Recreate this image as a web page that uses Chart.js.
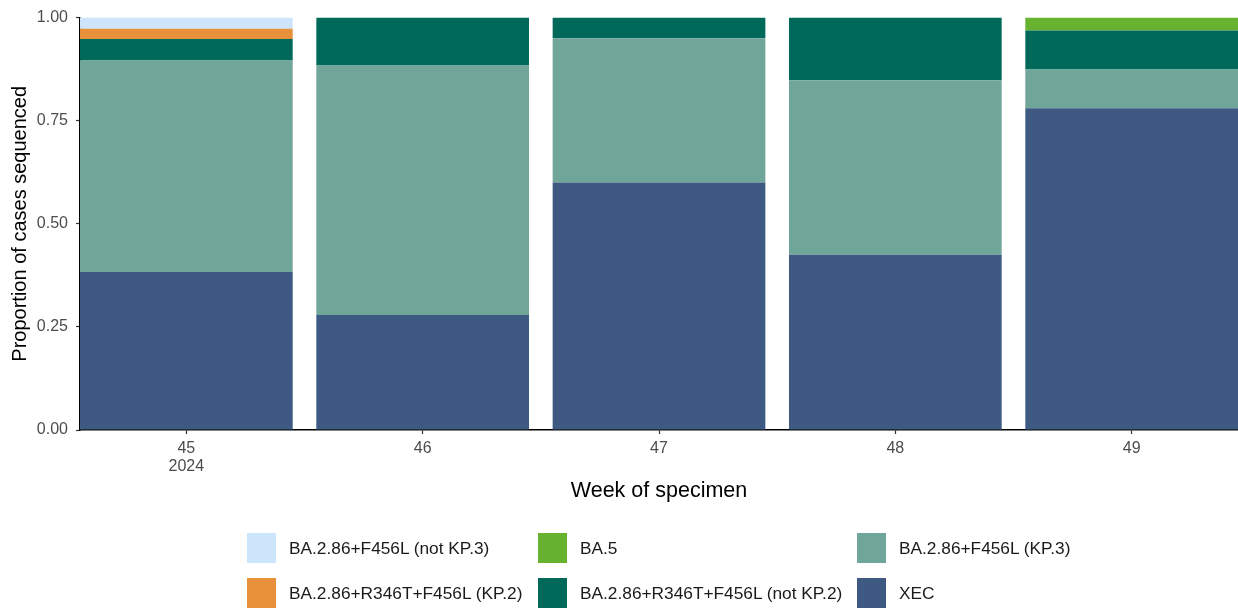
<!DOCTYPE html>
<html>
<head>
<meta charset="utf-8">
<script src="https://cdn.jsdelivr.net/npm/chart.js@4.4.1/dist/chart.umd.min.js"></script>
<style>
  html, body { margin: 0; padding: 0; background: #fff; }
  #wrap { position: relative; width: 1238px; height: 608px; font-family: "Liberation Sans", Arial, sans-serif; }
  #chart { position: absolute; left: 0; top: 0; }
  .key { position: absolute; width: 29px; height: 30px; }
  .lbl { position: absolute; font-size: 17.3px; line-height: 30px; color: #1a1a1a; white-space: nowrap; }
</style>
</head>
<body>
<div id="wrap">
  <canvas id="chart" width="1238" height="608"></canvas>
</div>
<script>
// week of specimen (x), first tick also carries the year
const weeks = [45, 46, 47, 48, 49];
const yearLabel = '2024';
const yTicks = [0, 0.25, 0.5, 0.75, 1];

// proportion of cases per lineage
const xec       = [0.383, 0.279, 0.600, 0.425, 0.780];
const kp3       = [0.513, 0.605, 0.350, 0.423, 0.094];
const notKp2    = [0.052, 0.116, 0.050, 0.152, 0.095];
const ba5       = [0,     0,     0,     0,     0.031];
const kp2       = [0.025, 0,     0,     0,     0    ];
const notKp3    = [0.027, 0,     0,     0,     0    ];

// stack order, bottom to top
const seriesNames  = ['XEC', 'BA.2.86+F456L (KP.3)', 'BA.2.86+R346T+F456L (not KP.2)', 'BA.5', 'BA.2.86+R346T+F456L (KP.2)', 'BA.2.86+F456L (not KP.3)'];
const seriesValues = [xec, kp3, notKp2, ba5, kp2, notKp3];
const seriesColors = ['#3e5a82', '#70a59a', '#006959', '#67b22f', '#e8913a', '#cce5fb'];

// legend grid: 3 columns x 2 rows, names in reading order
const legendOrder = [
  'BA.2.86+F456L (not KP.3)', 'BA.5', 'BA.2.86+F456L (KP.3)',
  'BA.2.86+R346T+F456L (KP.2)', 'BA.2.86+R346T+F456L (not KP.2)', 'XEC'
];

const FONT = '"Liberation Sans", Arial, sans-serif';
Chart.defaults.font.family = FONT;

const datasets = seriesNames.map((name, s) => ({
  label: name,
  data: weeks.map((w, i) => ({ x: w, y: seriesValues[s][i] })),
  backgroundColor: seriesColors[s],
  borderWidth: 0,
  categoryPercentage: 0.9,
  barPercentage: 1.0,
}));

new Chart(document.getElementById('chart'), {
  type: 'bar',
  data: { datasets },
  options: {
    responsive: false,
    animation: false,
    layout: { padding: { top: 16, right: 0, bottom: 104, left: 0 } },
    plugins: { legend: { display: false }, tooltip: { enabled: false } },
    scales: {
      x: {
        type: 'linear',
        stacked: true,
        offset: false,
        min: weeks[0] - 0.45,
        max: weeks[weeks.length - 1] + 0.45,
        afterBuildTicks: (s) => { s.ticks = weeks.map((v) => ({ value: v })); },
        afterFit: (s) => { s.height = 74; },
        grid: { offset: false, drawOnChartArea: false, tickLength: 4, tickColor: '#333333', tickWidth: 1.2 },
        border: { display: true, color: '#000000', width: 1.5 },
        ticks: {
          autoSkip: false,
          maxRotation: 0,
          padding: 6,
          color: '#4d4d4d',
          font: { size: 16, lineHeight: 1.1 },
          callback: (v) => (v === weeks[0] ? [String(v), yearLabel] : String(v)),
        },
        title: { display: true, text: 'Week of specimen', color: '#000000', font: { size: 21.5 }, padding: 0 },
      },
      y: {
        stacked: true,
        min: 0,
        max: 1,
        afterBuildTicks: (s) => { s.ticks = yTicks.map((v) => ({ value: v })); },
        afterFit: (s) => { s.width = 80; },
        grid: { drawOnChartArea: false, tickLength: 4, tickColor: '#333333', tickWidth: 1.2 },
        border: { display: true, color: '#000000', width: 1.5 },
        ticks: {
          padding: 8,
          color: '#4d4d4d',
          font: { size: 16 },
          callback: (v) => Number(v).toFixed(2),
        },
        title: { display: true, text: 'Proportion of cases sequenced', color: '#000000', font: { size: 20 }, padding: { top: 8, bottom: 0 } },
      },
    },
  },
});

// legend (HTML), 3 columns x 2 rows under the plot
const wrap = document.getElementById('wrap');
const colKeyX = [247, 538, 857];
const rowKeyY = [533, 578];
legendOrder.forEach((name, i) => {
  const col = i % 3, row = Math.floor(i / 3);
  const color = seriesColors[seriesNames.indexOf(name)];
  const key = document.createElement('div');
  key.className = 'key';
  key.style.left = colKeyX[col] + 'px';
  key.style.top = rowKeyY[row] + 'px';
  key.style.background = color;
  wrap.appendChild(key);
  const lbl = document.createElement('div');
  lbl.className = 'lbl';
  lbl.style.left = (colKeyX[col] + 42) + 'px';
  lbl.style.top = rowKeyY[row] + 'px';
  lbl.textContent = name;
  wrap.appendChild(lbl);
});
</script>
</body>
</html>
